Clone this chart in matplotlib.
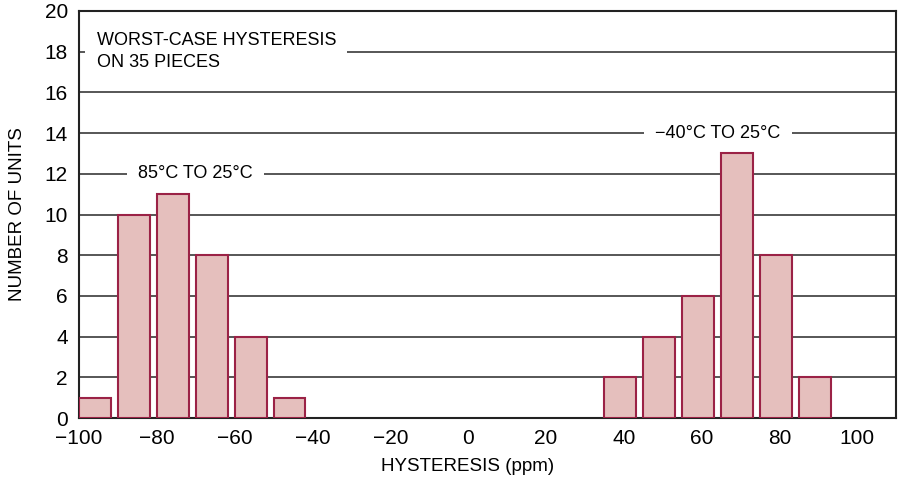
import matplotlib.pyplot as plt
import numpy as np

# left edges of the histogram bins (ppm) and counts
hot_bins = [-100, -90, -80, -70, -60, -50]
hot_counts = [1, 10, 11, 8, 4, 1]
cold_bins = [35, 45, 55, 65, 75, 85]
cold_counts = [2, 4, 6, 13, 8, 2]
bin_width = 8.2

x_ticks = [-100, -80, -60, -40, -20, 0, 20, 40, 60, 80, 100]
x_tick_labels = ['\u2212100', '\u221280', '\u221260', '\u221240', '\u221220',
                 '0', '20', '40', '60', '80', '100']
y_ticks = np.arange(0, 22, 2)

plt.rcParams['font.family'] = ['Liberation Sans', 'DejaVu Sans']

fig = plt.figure(figsize=(9, 4.88), dpi=100)
ax = fig.add_axes([0.0878, 0.1434, 0.9078, 0.8341])

for y in y_ticks[1:-1]:
    ax.axhline(y, color='#3a3a3a', linewidth=1.2, zorder=1)

bar_style = dict(width=bin_width, align='edge', color='#e5bfbd',
                 edgecolor='#9b2246', linewidth=1.5, zorder=3)
ax.bar(hot_bins, hot_counts, **bar_style)
ax.bar(cold_bins, cold_counts, **bar_style)

box = dict(facecolor='white', edgecolor='none', pad=8)
ax.text(-95.5, 18, 'WORST-CASE HYSTERESIS\nON 35 PIECES', ha='left', va='center',
        fontsize=13, linespacing=1.35, bbox=box, zorder=2)
ax.text(-70, 12, '85\u00b0C TO 25\u00b0C', ha='center', va='center',
        fontsize=13, bbox=box, zorder=2)
ax.text(64.2, 14, '\u221240\u00b0C TO 25\u00b0C', ha='center', va='center',
        fontsize=13, bbox=box, zorder=2)

ax.set_xlim(-100, 110)
ax.set_ylim(0, 20)
ax.set_xticks(x_ticks)
ax.set_xticklabels(x_tick_labels)
ax.set_yticks(y_ticks)
ax.tick_params(length=0, labelsize=15)
ax.tick_params(axis='x', pad=8)
ax.tick_params(axis='y', pad=8)
for s in ax.spines.values():
    s.set_linewidth(1.5)
    s.set_color('#222222')

ax.set_xlabel('HYSTERESIS (ppm)', fontsize=13.5)
ax.xaxis.set_label_coords(0.476, -0.098)
ax.set_ylabel('NUMBER OF UNITS', fontsize=13.5, labelpad=13)

fig.savefig('out.png', dpi=100)
